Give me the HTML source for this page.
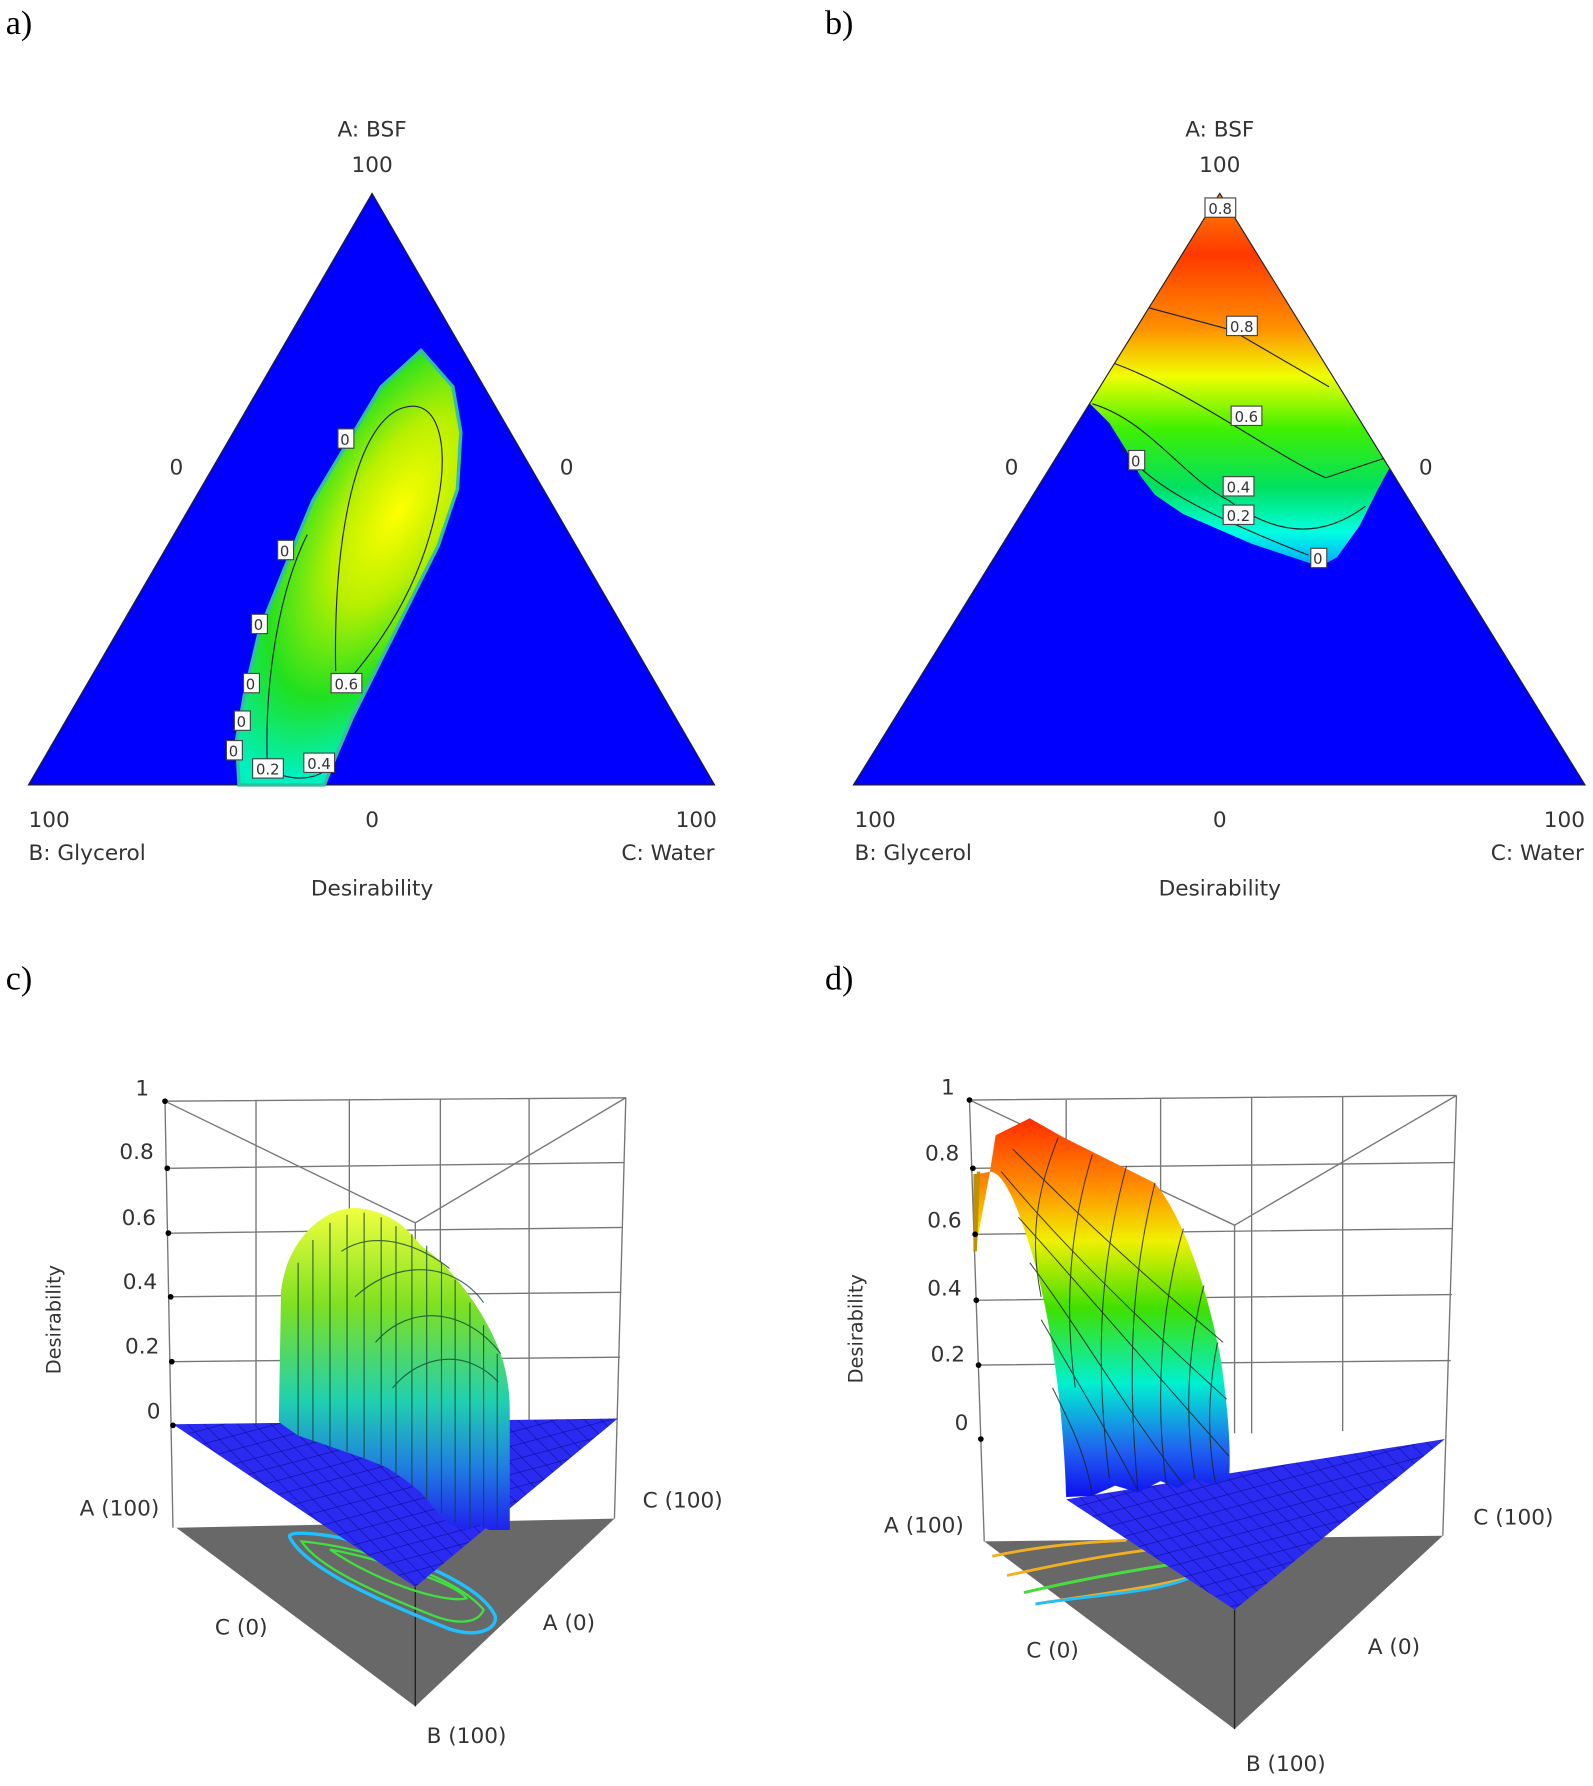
<!DOCTYPE html>
<html><head><meta charset="utf-8"><style>
html,body{margin:0;padding:0;background:#fff;}
svg{display:block;}
text{font-family:"DejaVu Sans","Liberation Sans",sans-serif;fill:#333;}
.s{font-family:"Liberation Serif",serif;fill:#000;font-size:30px;}
.l{font-size:19px;}
.lab{font-size:13px;fill:#222;}
</style></head><body>
<svg width="1593" height="1786" viewBox="0 0 1400 1570" preserveAspectRatio="none" xmlns="http://www.w3.org/2000/svg">
<defs>
<radialGradient id="ga" cx="350" cy="450" r="260" gradientUnits="userSpaceOnUse" gradientTransform="translate(350 450) rotate(-60) scale(1 0.45) translate(-350 -450)">
<stop offset="0" stop-color="#ffff00"/><stop offset="0.35" stop-color="#b8f000"/><stop offset="0.7" stop-color="#20e020"/><stop offset="1" stop-color="#00f0c0"/>
</radialGradient>
<linearGradient id="gb" x1="0" y1="175" x2="0" y2="500" gradientUnits="userSpaceOnUse">
<stop offset="0" stop-color="#ff8000"/><stop offset="0.15" stop-color="#ff3800"/><stop offset="0.35" stop-color="#ff9000"/><stop offset="0.48" stop-color="#f0ff00"/><stop offset="0.62" stop-color="#40f000"/><stop offset="0.78" stop-color="#00e060"/><stop offset="0.9" stop-color="#00ffe0"/><stop offset="1" stop-color="#00a0ff"/>
</linearGradient>
<linearGradient id="gc" x1="0" y1="1062" x2="0" y2="1345" gradientUnits="userSpaceOnUse">
<stop offset="0" stop-color="#f0ff40"/><stop offset="0.3" stop-color="#80e020"/><stop offset="0.6" stop-color="#20d0b0"/><stop offset="0.8" stop-color="#2080e0"/><stop offset="1" stop-color="#2020f0"/>
</linearGradient>
<linearGradient id="gd" x1="0" y1="985" x2="0" y2="1315" gradientUnits="userSpaceOnUse">
<stop offset="0" stop-color="#ff3000"/><stop offset="0.18" stop-color="#ff9000"/><stop offset="0.32" stop-color="#f0f000"/><stop offset="0.5" stop-color="#40e000"/><stop offset="0.7" stop-color="#00f0d0"/><stop offset="0.88" stop-color="#2060f0"/><stop offset="1" stop-color="#1010f0"/>
</linearGradient>
<pattern id="mesh" width="12" height="12" patternUnits="userSpaceOnUse" patternTransform="rotate(-15) skewX(30)">
<rect width="12" height="12" fill="#2a2af0"/><path d="M0 0H12M0 0V12" stroke="#0a0a90" stroke-width="1"/>
</pattern>
<clipPath id="ctb"><polygon points="750,690 1072,170 1393,690"/></clipPath>
</defs>

<!-- a -->
<text class="s" x="5" y="30">a)</text>
<polygon points="25,690 327,170 628,690" fill="#0000ff" stroke="#222" stroke-width="1"/>
<path d="M370,308 L398,340 L405,380 L402,430 L385,480 L360,530 L335,580 L310,630 L295,665 L285,690 L210,690 L208,650 L215,610 L228,555 L250,500 L275,440 L305,390 L335,340 Z" fill="url(#ga)" stroke="#30c0a0" stroke-width="3"/>
<path d="M295,590 C293,480 310,380 350,360 C385,345 395,390 385,440 C370,520 330,570 305,600" fill="none" stroke="#224" stroke-width="1"/>
<path d="M235,675 C232,600 245,520 270,470 M235,675 C255,690 290,685 290,668" fill="none" stroke="#224" stroke-width="1"/>
<g class="lab">
<rect x="297" y="377" width="14" height="17" fill="#fff" stroke="#444"/><text x="299" y="391">0</text>
<rect x="244" y="475" width="14" height="17" fill="#fff" stroke="#444"/><text x="246" y="489">0</text>
<rect x="221" y="540" width="14" height="17" fill="#fff" stroke="#444"/><text x="223" y="554">0</text>
<rect x="214" y="592" width="14" height="17" fill="#fff" stroke="#444"/><text x="216" y="606">0</text>
<rect x="206" y="625" width="14" height="17" fill="#fff" stroke="#444"/><text x="208" y="639">0</text>
<rect x="199" y="651" width="14" height="17" fill="#fff" stroke="#444"/><text x="201" y="665">0</text>
<rect x="222" y="667" width="27" height="17" fill="#fff" stroke="#444"/><text x="225" y="681">0.2</text>
<rect x="267" y="662" width="27" height="17" fill="#fff" stroke="#444"/><text x="270" y="676">0.4</text>
<rect x="291" y="592" width="27" height="17" fill="#fff" stroke="#444"/><text x="294" y="606">0.6</text>
</g>
<g class="l">
<text x="327" y="120" text-anchor="middle">A: BSF</text>
<text x="327" y="151" text-anchor="middle">100</text>
<text x="155" y="417" text-anchor="middle">0</text>
<text x="498" y="417" text-anchor="middle">0</text>
<text x="25" y="727">100</text>
<text x="327" y="727" text-anchor="middle">0</text>
<text x="630" y="727" text-anchor="end">100</text>
<text x="25" y="756">B: Glycerol</text>
<text x="628" y="756" text-anchor="end">C: Water</text>
<text x="327" y="787" text-anchor="middle">Desirability</text>
</g>

<!-- b -->
<text class="s" x="725" y="30">b)</text>
<polygon points="750,690 1072,170 1393,690" fill="#0000ff"/>
<g clip-path="url(#ctb)">
<path d="M940,330 L1072,160 L1250,380 L1222,410 L1210,432 L1195,462 L1175,490 L1160,498 L1100,478 L1040,452 L1015,435 L1002,418 L990,396 L975,372 L955,352 Z" fill="url(#gb)"/>
<path d="M1000,268 L1082,290 L1168,340 M975,318 C1040,340 1120,400 1165,420 L1225,400 M960,355 C1010,370 1040,420 1080,440 C1120,470 1160,475 1200,445 M985,392 C1005,420 1040,445 1150,488" fill="none" stroke="#222" stroke-width="1"/>
</g>
<polygon points="750,690 1072,170 1393,690" fill="none" stroke="#222" stroke-width="1"/>
<g class="lab">
<rect x="1059" y="174" width="27" height="17" fill="#fff" stroke="#444"/><text x="1062" y="188">0.8</text>
<rect x="1078" y="278" width="27" height="17" fill="#fff" stroke="#444"/><text x="1081" y="292">0.8</text>
<rect x="1082" y="357" width="27" height="17" fill="#fff" stroke="#444"/><text x="1085" y="371">0.6</text>
<rect x="992" y="396" width="14" height="17" fill="#fff" stroke="#444"/><text x="994" y="410">0</text>
<rect x="1075" y="419" width="27" height="17" fill="#fff" stroke="#444"/><text x="1078" y="433">0.4</text>
<rect x="1075" y="444" width="27" height="17" fill="#fff" stroke="#444"/><text x="1078" y="458">0.2</text>
<rect x="1152" y="482" width="14" height="17" fill="#fff" stroke="#444"/><text x="1154" y="496">0</text>
</g>
<g class="l">
<text x="1072" y="120" text-anchor="middle">A: BSF</text>
<text x="1072" y="151" text-anchor="middle">100</text>
<text x="889" y="417" text-anchor="middle">0</text>
<text x="1253" y="417" text-anchor="middle">0</text>
<text x="751" y="727">100</text>
<text x="1072" y="727" text-anchor="middle">0</text>
<text x="1393" y="727" text-anchor="end">100</text>
<text x="751" y="756">B: Glycerol</text>
<text x="1392" y="756" text-anchor="end">C: Water</text>
<text x="1072" y="787" text-anchor="middle">Desirability</text>
</g>

<!-- c -->
<text class="s" x="5" y="870">c)</text>
<g stroke="#777" stroke-width="1.2" fill="none">
<path d="M145,968 L550,965 M147,1027 L548,1022 M148,1084 L547,1079 M150,1140 L546,1136 M151,1197 L545,1193"/>
<path d="M225,968 V1252 M307,967 V1251 M387,966 V1250 M465,966 V1249"/>
<path d="M145,968 L365,1075 L550,965 M365,1075 V1250"/>
<path d="M145,968 L152,1343 M550,965 L540,1335"/>
</g>
<polygon points="155,1343 540,1335 365,1500" fill="#686868"/>
<path d="M365,1395 V1500" stroke="#222" stroke-width="1.2"/>
<path d="M255,1352 C250,1345 280,1348 300,1352 C350,1365 420,1390 435,1420 C438,1432 420,1440 395,1432 C340,1410 270,1380 255,1352 Z" fill="none" stroke="#20c0ff" stroke-width="3"/>
<path d="M265,1355 C320,1360 400,1385 425,1415 C420,1428 400,1428 380,1420 C330,1400 280,1378 265,1355 Z" fill="none" stroke="#40e040" stroke-width="2"/>
<path d="M290,1362 C340,1372 400,1392 410,1405 C390,1410 330,1390 290,1362 Z" fill="none" stroke="#40e040" stroke-width="2"/>
<polygon points="152,1252 543,1247 365,1395" fill="url(#mesh)"/>
<path d="M245,1250 L247,1135 C252,1090 285,1060 315,1062 C345,1066 358,1080 370,1095 C395,1112 425,1150 440,1190 C447,1210 448,1230 448,1240 L448,1345 L430,1345 L420,1340 L412,1345 L395,1340 L385,1330 L370,1312 L355,1300 L340,1290 L320,1282 L300,1275 L280,1268 L262,1262 Z" fill="url(#gc)"/>
<g stroke="#143" stroke-width="1" fill="none" opacity="0.8">
<path d="M262,1262 V1110 M275,1268 V1090 M290,1272 V1075 M305,1276 V1068 M320,1282 V1066 M335,1288 V1070 M348,1296 V1078 M362,1306 V1085 M375,1318 V1095 M388,1330 V1110 M400,1338 V1125 M413,1343 V1145 M425,1343 V1165 M437,1343 V1190"/>
<path d="M300,1100 C330,1080 370,1095 395,1115 M312,1140 C350,1105 400,1110 425,1145 M330,1180 C360,1145 410,1150 440,1190 M345,1220 C370,1190 410,1185 438,1215"/>
</g>
<g fill="#000"><circle cx="145" cy="968" r="2.5"/><circle cx="147" cy="1027" r="2.5"/><circle cx="148" cy="1084" r="2.5"/><circle cx="150" cy="1140" r="2.5"/><circle cx="151" cy="1197" r="2.5"/><circle cx="152" cy="1253" r="2.5"/></g>
<g class="l">
<text x="125" y="963" text-anchor="middle">1</text>
<text x="120" y="1019" text-anchor="middle">0.8</text>
<text x="122" y="1077" text-anchor="middle">0.6</text>
<text x="123" y="1133" text-anchor="middle">0.4</text>
<text x="125" y="1190" text-anchor="middle">0.2</text>
<text x="135" y="1247" text-anchor="middle">0</text>
<text x="105" y="1332" text-anchor="middle">A (100)</text>
<text x="600" y="1325" text-anchor="middle">C (100)</text>
<text x="212" y="1437" text-anchor="middle">C (0)</text>
<text x="500" y="1433" text-anchor="middle">A (0)</text>
<text x="410" y="1532" text-anchor="middle">B (100)</text>
<text transform="translate(53,1160) rotate(-90)" text-anchor="middle" style="font-size:17px">Desirability</text>
</g>

<!-- d -->
<text class="s" x="725" y="870">d)</text>
<g stroke="#777" stroke-width="1.2" fill="none">
<path d="M852,967 L1280,963 M855,1027 L1278,1022 M857,1085 L1277,1080 M858,1143 L1276,1138 M860,1200 L1275,1196"/>
<path d="M937,967 V1265 M1020,966 V1262 M1100,965 V1260 M1180,964 V1258"/>
<path d="M852,967 L1085,1077 L1280,963 M1085,1077 V1260"/>
<path d="M852,967 L865,1355 M1280,963 L1268,1350"/>
</g>
<polygon points="865,1355 1268,1350 1085,1520" fill="#686868"/>
<path d="M1085,1415 V1520" stroke="#222" stroke-width="1.2"/>
<path d="M872,1368 C900,1362 940,1356 990,1354 M885,1385 C930,1375 980,1365 1030,1360 M900,1400 C950,1388 1010,1378 1050,1372 M910,1410 C960,1402 1020,1395 1050,1385" fill="none" stroke="#f0b020" stroke-width="2.5"/>
<path d="M900,1400 C950,1388 1010,1378 1050,1372" fill="none" stroke="#40e040" stroke-width="2.5"/>
<path d="M910,1410 C960,1402 1020,1400 1050,1385" fill="none" stroke="#20c0ff" stroke-width="2.5"/>
<polygon points="937,1318 1270,1265 1085,1415" fill="url(#mesh)"/>
<path d="M857,1100 L859,1032 L870,1030 L875,998 L905,983 L935,1000 L975,1020 L1015,1040 C1040,1070 1060,1130 1072,1190 C1080,1240 1082,1280 1080,1300 L1065,1305 L1050,1300 L1035,1308 L1020,1302 L1000,1312 L980,1306 L960,1315 L937,1316 C935,1250 925,1150 900,1080 C890,1050 880,1030 870,1030 Z" fill="url(#gd)"/>
<path d="M857,1032 V1100 L860,1030" stroke="#c09000" stroke-width="3" fill="none"/>
<g stroke="#222" stroke-width="0.9" fill="none" opacity="0.85">
<path d="M890,1010 C930,1050 980,1100 1075,1180 M880,1030 C930,1090 990,1150 1078,1230 M895,1070 C940,1120 1000,1190 1080,1280 M905,1110 C950,1170 990,1240 1040,1305 M915,1160 C950,1220 980,1270 1000,1310 M925,1220 C940,1250 955,1280 960,1315"/>
<path d="M930,1000 C910,1050 905,1090 915,1140 M960,1015 C940,1080 935,1150 945,1220 M990,1025 C970,1100 960,1180 975,1300 M1015,1040 C995,1120 990,1200 1000,1310 M1040,1080 C1020,1150 1015,1230 1025,1305 M1058,1130 C1045,1180 1040,1240 1050,1300 M1070,1180 C1060,1230 1062,1270 1068,1303"/>
</g>
<g fill="#000"><circle cx="852" cy="967" r="2.5"/><circle cx="855" cy="1027" r="2.5"/><circle cx="857" cy="1085" r="2.5"/><circle cx="858" cy="1143" r="2.5"/><circle cx="860" cy="1200" r="2.5"/><circle cx="862" cy="1265" r="2.5"/></g>
<g class="l">
<text x="833" y="962" text-anchor="middle">1</text>
<text x="828" y="1020" text-anchor="middle">0.8</text>
<text x="830" y="1079" text-anchor="middle">0.6</text>
<text x="830" y="1139" text-anchor="middle">0.4</text>
<text x="833" y="1197" text-anchor="middle">0.2</text>
<text x="845" y="1257" text-anchor="middle">0</text>
<text x="812" y="1347" text-anchor="middle">A (100)</text>
<text x="1330" y="1340" text-anchor="middle">C (100)</text>
<text x="925" y="1457" text-anchor="middle">C (0)</text>
<text x="1225" y="1454" text-anchor="middle">A (0)</text>
<text x="1130" y="1557" text-anchor="middle">B (100)</text>
<text transform="translate(758,1168) rotate(-90)" text-anchor="middle" style="font-size:17px">Desirability</text>
</g>
</svg>
</body></html>
